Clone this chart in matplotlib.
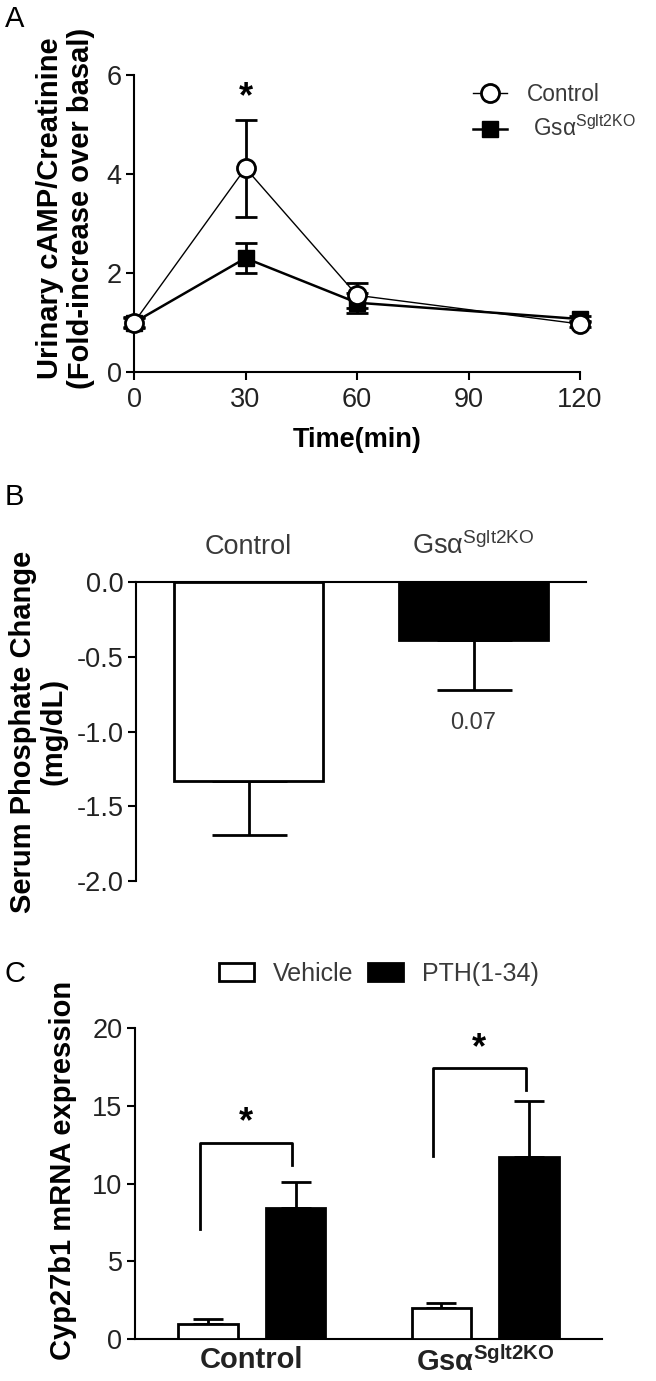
import matplotlib
matplotlib.use('Agg')
import matplotlib.pyplot as plt
from matplotlib.patches import Patch
from matplotlib.lines import Line2D

plt.rcParams['font.family'] = ['Liberation Sans', 'DejaVu Sans']
plt.rcParams['mathtext.fontset'] = 'custom'
plt.rcParams['mathtext.rm'] = 'Liberation Sans'
plt.rcParams['mathtext.it'] = 'Liberation Sans:italic'
plt.rcParams['mathtext.bf'] = 'Liberation Sans:bold'

# ---------------- data ----------------
# Panel A
time_min = [0, 30, 60, 120]
ctrl_mean = [1.0, 4.12, 1.55, 0.97]
ctrl_sem = [0.12, 0.98, 0.25, 0.06]
ko_mean = [1.0, 2.30, 1.40, 1.07]
ko_sem = [0.10, 0.31, 0.20, 0.06]
a_xticks = [0, 30, 60, 90, 120]
a_yticks = [0, 2, 4, 6]
a_series = ['Control', ' Gsα$^{\\mathrm{Sglt2KO}}$']

# Panel B
b_groups = ['Control', 'Gsα$^{\\mathrm{Sglt2KO}}$']
b_mean = [-1.33, -0.39]
b_sem = [0.36, 0.33]
b_pval = '0.07'
b_yticks = [0.0, -0.5, -1.0, -1.5, -2.0]

# Panel C
c_groups = ['Control', 'Gsα$^{\\mathrm{Sglt2KO}}$']
c_series = ['Vehicle', 'PTH(1-34)']
c_vehicle = [0.97, 1.98]
c_vehicle_sem = [0.32, 0.32]
c_pth = [8.4, 11.7]
c_pth_sem = [1.7, 3.6]
c_bracket_left = [7.1, 11.8]
c_bracket_right = [11.2, 16.0]
c_bracket_top = [12.6, 17.4]
c_yticks = [0, 5, 10, 15, 20]

# ---------------- layout helpers ----------------
W, H = 656, 1381
DPI = 100
fig = plt.figure(figsize=(W / DPI, H / DPI), dpi=DPI)


def fx(px):
    return px / W


def fy(py):
    return 1 - py / H


TICK_FS = 19.5
LAB_FS = 21
TICK_COLOR = '#222222'
TEXT_GRAY = '#3a3a3a'


def style_axes(ax):
    for s in ['right']:
        ax.spines[s].set_visible(False)
    for s in ax.spines.values():
        s.set_linewidth(1.5)
    ax.tick_params(axis='both', direction='out', length=6, width=1.5,
                   labelsize=TICK_FS, labelcolor=TICK_COLOR, pad=3)


# ---------------- Panel A ----------------
axA = fig.add_axes([fx(134), fy(372), fx(580) - fx(134), fy(75) - fy(372)])
style_axes(axA)
axA.spines['top'].set_visible(False)
axA.set_xlim(0, 120)
axA.set_ylim(0, 6)
axA.set_xticks(a_xticks)
axA.set_yticks(a_yticks)
axA.tick_params(axis='x', pad=5)

axA.errorbar(time_min, ctrl_mean, yerr=ctrl_sem, fmt='none', ecolor='black',
             elinewidth=2.0, capsize=8, capthick=2.0, zorder=3, clip_on=False)
axA.errorbar(time_min, ko_mean, yerr=ko_sem, fmt='none', ecolor='black',
             elinewidth=2.0, capsize=8, capthick=2.0, zorder=3, clip_on=False)
l_ko, = axA.plot(time_min, ko_mean, color='black', lw=1.8, marker='s',
                 markersize=12, markerfacecolor='black', markeredgecolor='black',
                 zorder=4, clip_on=False, label=a_series[1])
l_ctrl, = axA.plot(time_min, ctrl_mean, color='black', lw=1.0, marker='o',
                   markersize=13, markerfacecolor='white', markeredgecolor='black',
                   markeredgewidth=2.0, zorder=5, clip_on=False, label=a_series[0])
axA.text(30, 5.55, '*', ha='center', va='center', fontsize=26, fontweight='bold')

axA.set_xlabel('Time(min)', fontsize=19.5, fontweight='bold', va='top')
axA.xaxis.set_label_coords(0.5, -0.185)
axA.set_ylabel('Urinary cAMP/Creatinine\n(Fold-increase over basal)',
               fontsize=LAB_FS, fontweight='bold', va='center', ha='center',
               linespacing=1.15)
axA.yaxis.set_label_coords((65.5 - 134) / 446, (372 - 208) / 297)

legA = axA.legend(handles=[l_ctrl, l_ko], loc='center left',
                  bbox_to_anchor=(fx(473), fy(112)), bbox_transform=fig.transFigure,
                  frameon=False, fontsize=16.3, numpoints=1, handlelength=1.5,
                  handletextpad=0.9, labelspacing=0.45, borderpad=0, borderaxespad=0)
for t in legA.get_texts():
    t.set_color(TEXT_GRAY)

fig.text(fx(5), fy(5), 'A', fontsize=21, va='top', ha='left')

# ---------------- Panel B ----------------
axB = fig.add_axes([fx(136), fy(881), fx(586) - fx(136), fy(582) - fy(881)])
style_axes(axB)
axB.spines['bottom'].set_visible(False)
axB.set_xlim(-0.5, 1.5)
axB.set_ylim(-2.0, 0.0)
axB.set_yticks(b_yticks)
axB.set_yticklabels(['%.1f' % v for v in b_yticks])
xb = list(range(len(b_groups)))
axB.bar(xb, b_mean, width=0.66, color=['white', 'black'], edgecolor='black',
        linewidth=2.0, zorder=3)
axB.errorbar(xb, b_mean, yerr=[b_sem, [0, 0]], fmt='none', ecolor='black',
             elinewidth=2.0, capsize=27, capthick=2.0, zorder=2)
axB.xaxis.set_ticks_position('top')
axB.set_xticks(xb)
axB.set_xticklabels(b_groups)
axB.tick_params(axis='x', length=0, pad=16, labelsize=19.5, labelcolor=TEXT_GRAY)
axB.text(1, -0.94, b_pval, ha='center', va='center', fontsize=17, color=TEXT_GRAY)
axB.set_ylabel('Serum Phosphate Change\n(mg/dL)', fontsize=LAB_FS, fontweight='bold',
               va='center', ha='center', linespacing=1.1)
axB.yaxis.set_label_coords((38 - 136) / 450, 0.5)

fig.text(fx(5), fy(483), 'B', fontsize=21, va='top', ha='left')

# ---------------- Panel C ----------------
axC = fig.add_axes([fx(135), fy(1339), fx(602) - fx(135), fy(1028) - fy(1339)])
style_axes(axC)
axC.spines['top'].set_visible(False)
axC.set_xlim(-0.5, 1.5)
axC.set_ylim(0, 20)
axC.set_yticks(c_yticks)
xc = list(range(len(c_groups)))
off = 0.188
bw = 0.254
xv = [x - off for x in xc]
xp = [x + off for x in xc]
axC.bar(xv, c_vehicle, width=bw, color='white', edgecolor='black', linewidth=2.0,
        zorder=3, label=c_series[0])
axC.bar(xp, c_pth, width=bw, color='black', edgecolor='black', linewidth=2.0,
        zorder=3, label=c_series[1])
axC.errorbar(xv, c_vehicle, yerr=[[0, 0], c_vehicle_sem], fmt='none', ecolor='black',
             elinewidth=2.0, capsize=10.5, capthick=2.0, zorder=2)
axC.errorbar(xp, c_pth, yerr=[[0, 0], c_pth_sem], fmt='none', ecolor='black',
             elinewidth=2.0, capsize=11, capthick=2.0, zorder=2)
for i in range(len(c_groups)):
    xl = xv[i] - 0.035
    xr = xp[i] - 0.015
    axC.plot([xl, xl, xr, xr],
             [c_bracket_left[i], c_bracket_top[i], c_bracket_top[i], c_bracket_right[i]],
             color='black', lw=2.0, zorder=4)
    axC.text((xl + xr) / 2, c_bracket_top[i] + 1.3, '*', ha='center', va='center',
             fontsize=26, fontweight='bold')
axC.set_xticks(xc)
axC.set_xticklabels(['Control', 'Gsα$^{\\mathbf{Sglt2KO}}$'], fontweight='bold')
axC.tick_params(axis='x', length=0, pad=5, labelsize=LAB_FS, labelcolor=TICK_COLOR)
axC.set_ylabel('Cyp27b1 mRNA expression', fontsize=LAB_FS, fontweight='bold',
               va='center', ha='center')
axC.yaxis.set_label_coords((63 - 135) / 467, (1339 - 1170) / 311)

handlesC = [Patch(facecolor='white', edgecolor='black', linewidth=2.0),
            Patch(facecolor='black', edgecolor='black', linewidth=2.0)]
legC = axC.legend(handles=handlesC, labels=c_series, loc='center left', ncol=2,
                  bbox_to_anchor=(fx(219), fy(974)), bbox_transform=fig.transFigure,
                  frameon=False, fontsize=18, handlelength=1.4, handleheight=0.72,
                  handletextpad=0.75, columnspacing=0.6, borderpad=0, borderaxespad=0)
for t in legC.get_texts():
    t.set_color(TEXT_GRAY)

fig.text(fx(4), fy(960), 'C', fontsize=21, va='top', ha='left')

fig.savefig('out.png', dpi=DPI)
